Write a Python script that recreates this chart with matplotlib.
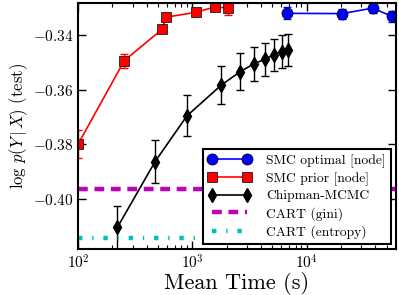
import numpy as np
import matplotlib
matplotlib.use('Agg')
import matplotlib.pyplot as plt

plt.rcParams['font.family'] = 'serif'
plt.rcParams['font.serif'] = ['cmr10', 'DejaVu Serif']
plt.rcParams['mathtext.fontset'] = 'cm'
plt.rcParams['axes.formatter.use_mathtext'] = True
plt.rcParams['axes.unicode_minus'] = True

# SMC optimal [node]
opt_t = [6680, 20500, 37700, 55300, 62500]
opt_y = [-0.3321, -0.3322, -0.3302, -0.3331, -0.3331]
opt_e = [0.0022, 0.0018, 0.0018, 0.0020, 0.0020]

# SMC prior [node]
prior_t = [100, 254, 545, 590, 1085, 1590, 2070]
prior_y = [-0.3800, -0.3494, -0.3379, -0.3335, -0.3317, -0.3297, -0.3302]
prior_e = [0.0052, 0.0026, 0.0012, 0.0012, 0.0010, 0.0010, 0.0024]

# Chipman-MCMC
mcmc_t = [221, 473, 897, 1786, 2630, 3445, 4300, 5170, 6030, 6900]
mcmc_y = [-0.4104, -0.3863, -0.3696, -0.3584, -0.3534, -0.3506, -0.3489, -0.3473, -0.3461, -0.3455]
mcmc_e = [0.0079, 0.0079, 0.0075, 0.0070, 0.0068, 0.0062, 0.0060, 0.0059, 0.0060, 0.0060]

cart_gini = -0.3963
cart_entropy = -0.4143

fig = plt.figure(figsize=(3.99, 2.95), dpi=100)
ax = fig.add_axes([0.1955, 0.156, 0.797, 0.834])

ax.errorbar(opt_t, opt_y, yerr=opt_e, color='b', ecolor='b', fmt='none', capsize=3, elinewidth=1)
ax.plot(opt_t, opt_y, color='b', marker='o', ms=8, mec='k', mew=0.5, lw=1.2, label='SMC optimal [node]')

ax.errorbar(prior_t, prior_y, yerr=prior_e, color='r', ecolor='r', fmt='none', capsize=3, elinewidth=1)
ax.plot(prior_t, prior_y, color='r', marker='s', ms=7, mec='k', mew=0.5, lw=1.2, label='SMC prior [node]')

ax.errorbar(mcmc_t, mcmc_y, yerr=mcmc_e, color='k', ecolor='k', fmt='none', capsize=3, elinewidth=1)
ax.plot(mcmc_t, mcmc_y, color='k', marker='d', ms=7, lw=1.2, label='Chipman-MCMC')

ax.axhline(cart_gini, color='m', ls=(0, (2.2, 1.5)), lw=3.2, label='CART (gini)')
ax.axhline(cart_entropy, color='c', ls=(0, (1.0, 2.2, 0.3, 2.2)), lw=3.2, label='CART (entropy)')

ax.set_xscale('log')
ax.set_xlim(100, 60500)
ax.set_ylim(-0.4183, -0.3283)
ax.set_yticks([-0.40, -0.38, -0.36, -0.34])
ax.set_yticklabels([r'$-0.40$', r'$-0.38$', r'$-0.36$', r'$-0.34$'])

ax.tick_params(which='both', direction='in', top=True, right=True, labelsize=11)
ax.tick_params(which='major', length=6, width=1)
ax.tick_params(which='minor', length=3, width=0.8)
for s in ax.spines.values():
    s.set_linewidth(1.5)

ax.set_xlabel('Mean Time (s)', fontsize=16, labelpad=0)
ax.set_ylabel(r'$\log\, p(Y\,|\,X)$ (test)', fontsize=12, labelpad=2)

leg = ax.legend(loc='lower right', numpoints=2, fontsize=9.8, fancybox=False,
                framealpha=1, edgecolor='k', borderaxespad=0.4, handlelength=3.2,
                handletextpad=1.1, labelspacing=0.32, borderpad=0.35)
leg.get_frame().set_linewidth(1.5)

fig.savefig('out.png', dpi=100)
